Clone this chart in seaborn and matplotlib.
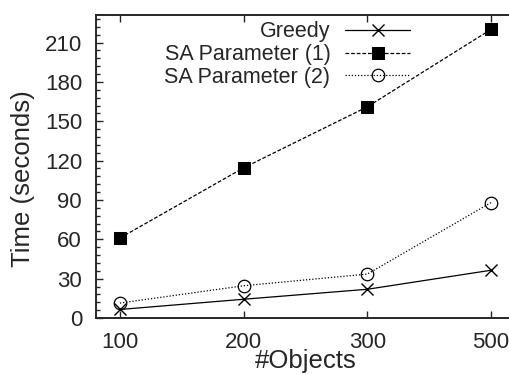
import numpy as np
import pandas as pd
import seaborn as sns
import matplotlib
matplotlib.use("Agg")
import matplotlib.pyplot as plt
from matplotlib.ticker import MultipleLocator

# data
objects = ["100", "200", "300", "500"]
greedy = [6.5, 14.3, 21.9, 36.4]
sa_param1 = [61, 114.5, 161, 220]
sa_param2 = [11.4, 24.6, 33.5, 88]

sns.set_style("ticks")
plt.rcParams['font.family'] = ['Liberation Sans', 'DejaVu Sans']

fig = plt.figure(figsize=(5.09, 3.75), dpi=100)
ax = fig.add_axes([96/509, 57/375, 419/509, 303/375])

pos = np.arange(len(objects))
sns.lineplot(x=pos, y=greedy, ax=ax, color="black", lw=0.9, linestyle="-",
             marker="x", markersize=9, mec="black", mew=1.0, label="Greedy")
sns.lineplot(x=pos, y=sa_param1, ax=ax, color="black", lw=0.9, linestyle=(0, (3, 1.5)),
             marker="s", markersize=9, mec="black", mfc="black", label="SA Parameter (1)")
sns.lineplot(x=pos, y=sa_param2, ax=ax, color="black", lw=0.9, linestyle=(0, (1, 1.5)),
             marker="o", markersize=9, mec="black", mfc="none", mew=0.9, label="SA Parameter (2)")

ax.set_xlim(-0.194, 3.194)
ax.set_ylim(0, 231)
ax.set_xticks(pos)
ax.set_xticklabels(objects)
ax.yaxis.set_major_locator(MultipleLocator(30))
ax.yaxis.set_minor_locator(MultipleLocator(6))
ax.tick_params(which="both", direction="in", top=True, right=False, labelsize=16, width=1)
ax.tick_params(which="major", length=5, pad=10)
ax.tick_params(which="minor", length=3)
for s in ax.spines.values():
    s.set_linewidth(1.4)
ax.spines["right"].set_visible(False)

ax.set_xlabel("#Objects", fontsize=18.5, labelpad=-3)
ax.set_ylabel("Time (seconds)", fontsize=18.5)
ax.yaxis.set_label_coords(-0.145, 0.459)

leg = ax.legend(loc="upper right", bbox_to_anchor=(0.765, 1.0), frameon=False, markerfirst=False,
                fontsize=15.5, handlelength=3.0, labelspacing=0.08, handletextpad=0.7,
                borderaxespad=0, borderpad=0.3)
for t in leg.get_texts():
    t.set_ha("right")
leg._legend_box.align = "right"

fig.savefig("out.png", dpi=100)
